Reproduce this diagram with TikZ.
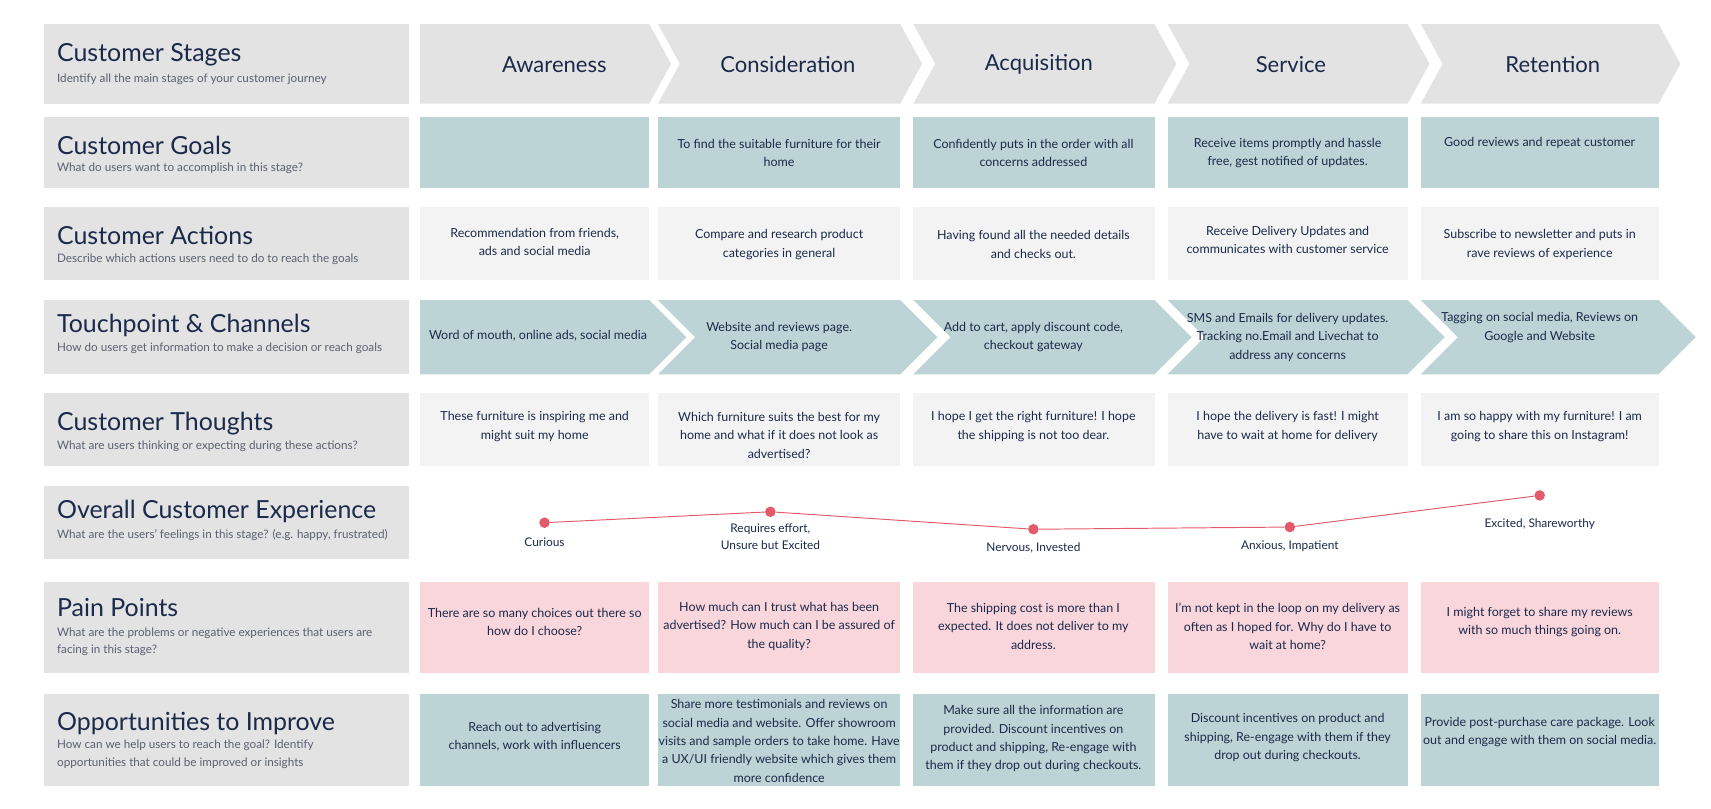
\documentclass[tikz,border=0pt]{standalone}
\usepackage{fontspec}
\setmainfont{Lato}
\usetikzlibrary{positioning}
\definecolor{navy}{HTML}{1B2A4A}
\definecolor{labelgrey}{HTML}{E3E3E3}
\definecolor{teal}{HTML}{BCD4D6}
\definecolor{lightgrey}{HTML}{F3F3F3}
\definecolor{pink}{HTML}{F9D5DC}
\definecolor{dotred}{HTML}{E35A6A}
\definecolor{subgrey}{HTML}{5A6070}
\tikzset{
  rowtitle/.style={anchor=west,text=navy,inner sep=0pt,font=\fontsize{13}{15}\selectfont},
  rowsub/.style={anchor=north west,text=subgrey,inner sep=0pt,align=left,font=\fontsize{6.1}{9}\selectfont},
  stage/.style={text=navy,font=\fontsize{11.5}{13}\selectfont},
  cell/.style={text=navy,align=center,inner sep=0pt,font=\fontsize{6.5}{9.6}\selectfont},
  mood/.style={text=navy,align=center,inner sep=0pt,font=\fontsize{6.2}{9}\selectfont},
  dot/.style={circle,fill=dotred,inner sep=0pt,minimum size=5.5pt},
}
\begin{document}
\begin{tikzpicture}[x=0.02cm,y=-0.02cm]
\useasboundingbox (0,0) rectangle (1568,741);
% left label boxes
\foreach \t/\b in {22/95,107/172,190/257,275/343,360/427,445/512,533/617,636/720}
  \fill[labelgrey] (40,\t) rectangle (375,\b);
\node[rowtitle] (tstages) at (52,50) {Customer Stages};
\node[rowsub] (sstages) at (52,67) {Identify all the main stages of your customer journey};
\node[rowtitle] (tgoals) at (52,133) {Customer Goals};
\node[rowsub] (sgoals) at (52,149) {What do users want to accomplish in this stage?};
\node[rowtitle] (tactions) at (52,216) {Customer Actions};
\node[rowsub] (sactions) at (52,232) {Describe which actions users need to do to reach the goals};
\node[rowtitle] (ttouch) at (52,298) {Touchpoint \& Channels};
\node[rowsub] (stouch) at (52,314) {How do users get information to make a decision or reach goals};
\node[rowtitle] (tthoughts) at (52,388) {Customer Thoughts};
\node[rowsub] (sthoughts) at (52,404) {What are users thinking or expecting during these actions?};
\node[rowtitle] (texp) at (52,469) {Overall Customer Experience};
\node[rowsub] (sexp) at (52,485) {What are the users' feelings in this stage? (e.g. happy, frustrated)};
\node[rowtitle] (tpain) at (52,557) {Pain Points};
\node[rowsub] (spain) at (52,575) {What are the problems or negative experiences that users are\\facing in this stage?};
\node[rowtitle] (topp) at (52,663) {Opportunities to Improve};
\node[rowsub] (sopp) at (52,678) {How can we help users to reach the goal? Identify\\opportunities that could be improved or insights};
% chevron rows
\foreach \l/\r/\n in {385/595/1,603/825/2,837/1058/3,1070/1290/4,1302/1520/5}{
  \ifnum\n=1
    \fill[labelgrey] (\l,22) -- (\r,22) -- (\r+20,58.5) -- (\r,95) -- (\l,95) -- cycle;
    \fill[teal] (\l,275) -- (\r,275) -- (\r+34,309) -- (\r,343) -- (\l,343) -- cycle;
  \else
    \fill[labelgrey] (\l,22) -- (\r,22) -- (\r+20,58.5) -- (\r,95) -- (\l,95) -- (\l+20,58.5) -- cycle;
    \fill[teal] (\l,275) -- (\r,275) -- (\r+34,309) -- (\r,343) -- (\l,343) -- (\l+34,309) -- cycle;
  \fi
  \fill[teal] (\l,107) rectangle (\r,172);
  \fill[lightgrey] (\l,190) rectangle (\r,257);
  \fill[lightgrey] (\l,360) rectangle (\r,427);
  \fill[pink] (\l,533) rectangle (\r,617);
  \fill[teal] (\l,636) rectangle (\r,720);
}
% stages
\node[stage] (awareness) at (508,59) {Awareness};
\node[stage] (consideration) at (722,59) {Consideration};
\node[stage] (acquisition) at (952,59) {Acquisition};
\node[stage] (service) at (1183,59) {Service};
\node[stage] (retention) at (1423,59) {Retention};
% goals
\node[cell] (g2) at (714,140) {To find the suitable furniture for their\\home};
\node[cell] (g3) at (947,140) {Confidently puts in the order with all\\concerns addressed};
\node[cell] (g4) at (1180,140) {Receive items promptly and hassle\\free, gest notified of updates.};
\node[cell] (g5) at (1411,131) {Good reviews and repeat customer};
% actions
\node[cell] (a1) at (490,222) {Recommendation from friends,\\ads and social media};
\node[cell] (a2) at (714,224) {Compare and research product\\categories in general};
\node[cell] (a3) at (947,224) {Having found all the needed details\\and checks out.};
\node[cell] (a4) at (1180,220) {Receive Delivery Updates and\\communicates with customer service};
\node[cell] (a5) at (1411,224) {Subscribe to newsletter and puts in\\rave reviews of experience};
% touchpoints
\node[cell] (c1) at (493,308) {Word of mouth, online ads, social media};
\node[cell] (c2) at (714,309) {Website and reviews page.\\Social media page};
\node[cell] (c3) at (947,309) {Add to cart, apply discount code,\\checkout gateway};
\node[cell] (c4) at (1180,309) {SMS and Emails for delivery updates.\\Tracking no.Email and Livechat to\\address any concerns};
\node[cell] (c5) at (1411,300) {Tagging on social media, Reviews on\\Google and Website};
% thoughts
\node[cell] (h1) at (490,391) {These furniture is inspiring me and\\might suit my home};
\node[cell] (h2) at (714,399) {Which furniture suits the best for my\\home and what if it does not look as\\advertised?};
\node[cell] (h3) at (947,391) {I hope I get the right furniture! I hope\\the shipping is not too dear.};
\node[cell] (h4) at (1180,391) {I hope the delivery is fast! I might\\have to wait at home for delivery};
\node[cell] (h5) at (1411,391) {I am so happy with my furniture! I am\\going to share this on Instagram!};
% experience
\node[dot] (e1) at (499,479) {};
\node[dot] (e2) at (706,469) {};
\node[dot] (e3) at (947,485) {};
\node[dot] (e4) at (1182,483) {};
\node[dot] (e5) at (1411,454) {};
\draw[dotred,line width=0.5pt] (e1) -- (e2) -- (e3) -- (e4) -- (e5);
\node[mood,below=5pt of e1] (m1) {Curious};
\node[mood,below=3pt of e2] (m2) {Requires effort,\\Unsure but Excited};
\node[mood,below=4pt of e3] (m3) {Nervous, Invested};
\node[mood,below=4pt of e4] (m4) {Anxious, Impatient};
\node[mood,below=9pt of e5] (m5) {Excited, Shareworthy};
% pain points
\node[cell] (p1) at (490,570) {There are so many choices out there so\\how do I choose?};
\node[cell] (p2) at (714,574) {How much can I trust what has been\\advertised? How much can I be assured of\\the quality?};
\node[cell] (p3) at (947,574) {The shipping cost is more than I\\expected. It does not deliver to my\\address.};
\node[cell] (p4) at (1180,574) {I'm not kept in the loop on my delivery as\\often as I hoped for. Why do I have to\\wait at home?};
\node[cell] (p5) at (1411,570) {I might forget to share my reviews\\with so much things going on.};
% opportunities
\node[cell] (o1) at (490,675) {Reach out to advertising\\channels, work with influencers};
\node[cell] (o2) at (714,679) {Share more testimonials and reviews on\\social media and website. Offer showroom\\visits and sample orders to take home. Have\\a UX/UI friendly website which gives them\\more confidence};
\node[cell] (o3) at (947,677) {Make sure all the information are\\provided. Discount incentives on\\product and shipping, Re-engage with\\them if they drop out during checkouts.};
\node[cell] (o4) at (1180,676) {Discount incentives on product and\\shipping, Re-engage with them if they\\drop out during checkouts.};
\node[cell] (o5) at (1411,671) {Provide post-purchase care package. Look\\out and engage with them on social media.};
\end{tikzpicture}
\end{document}
